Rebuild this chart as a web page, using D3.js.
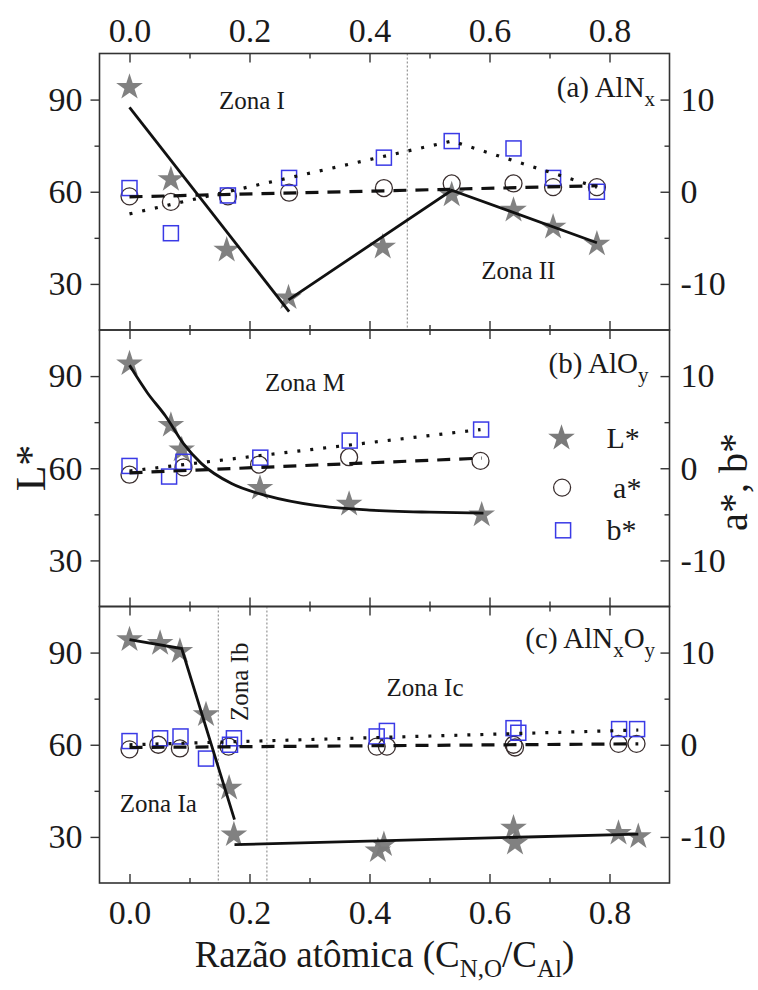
<!DOCTYPE html>
<html>
<head>
<meta charset="utf-8">
<script src="https://cdn.jsdelivr.net/npm/d3@7"></script>
<style>
  body { margin: 0; background: #fff; }
  svg { display: block; font-family: "Liberation Serif", "Times New Roman", serif; }
  .tick text { font-family: "Liberation Serif", "Times New Roman", serif; fill: #1a1a1a; }
  .tick line { stroke: #333; stroke-width: 1.4; }
</style>
</head>
<body>
<svg id="chart" width="758" height="990"></svg>
<script>
// ---- axis ticks ----
const xMajor = [0, 0.2, 0.4, 0.6, 0.8];
const xMinor = [0.1, 0.3, 0.5, 0.7];
const xTickLabels = ["0.0", "0.2", "0.4", "0.6", "0.8"];
const lTicks = [30, 60, 90];
const lMinor = [45, 75];
const abTicks = [-10, 0, 10];
const abMinor = [-5, 5];

// ---- (a) AlNx ----
const aXL = [0, 0.069, 0.162, 0.265, 0.422, 0.537, 0.64, 0.706, 0.779];
const aL  = [94, 64, 41, 25.5, 42, 59, 54, 48.5, 43];
const aXA = [0, 0.069, 0.164, 0.266, 0.424, 0.537, 0.64, 0.706, 0.779];
const aA  = [-0.5, -1.1, -0.5, -0.1, 0.4, 0.9, 0.9, 0.5, 0.5];
const aXB = [0, 0.069, 0.164, 0.266, 0.424, 0.537, 0.64, 0.706, 0.779];
const aB  = [0.4, -4.5, -0.4, 1.5, 3.7, 5.5, 4.7, 1.5, 0];
const aLFit = [[[0, 87.5], [0.266, 21]], [[0.265, 24.8], [0.537, 60.5], [0.779, 43.4]]];
const aAFit = [[[0, -0.55], [0.78, 0.65]]];
const aBFit = [[[0, -2.4], [0.537, 5.5], [0.779, 0.5]]];
const aGuides = [0.463];

// ---- (b) AlOy ----
const bXL = [0, 0.069, 0.087, 0.2175, 0.366, 0.587];
const bL  = [94, 74, 66, 53.5, 48.3, 44.8];
const bXA = [0, 0.09, 0.216, 0.366, 0.585];
const bA  = [-0.7, 0.1, 0.4, 1.2, 0.8];
const bXB = [0, 0.066, 0.09, 0.218, 0.367, 0.586];
const bB  = [0.25, -0.9, 0.7, 1.15, 3.0, 4.2];
const bLFitX = [0, 0.03, 0.06, 0.09, 0.12, 0.17, 0.23, 0.31, 0.40, 0.50, 0.59];
const bLFitY = [93.5, 84.5, 77, 68, 61.5, 55, 51, 47.9, 46.4, 45.7, 45.4];
const bAFit = [[[0, -0.5], [0.587, 1.1]]];
const bBFit = [[[0, -0.3], [0.585, 4.2]]];

// ---- (c) AlNxOy ----
const cXL = [0, 0.051, 0.084, 0.1275, 0.166, 0.174, 0.414, 0.424, 0.64, 0.6425, 0.815, 0.848];
const cL  = [94.2, 93, 90.4, 69.8, 45.9, 30.7, 25.5, 27.5, 32.9, 28, 31.2, 30.1];
const cXA = [0, 0.048, 0.084, 0.165, 0.412, 0.429, 0.64, 0.6425, 0.815, 0.845];
const cA  = [-0.5, 0, -0.4, -0.2, -0.2, -0.2, 0, -0.3, 0.1, 0.1];
const cXB = [0, 0.051, 0.085, 0.1275, 0.1675, 0.174, 0.412, 0.429, 0.64, 0.648, 0.816, 0.846];
const cB  = [0.4, 0.7, 0.9, -1.5, 0, 0.7, 0.9, 1.5, 1.8, 1.3, 1.7, 1.7];
const cLFit = [[[0, 94.2], [0.087, 91.3], [0.175, 35.6]], [[0.175, 27.5], [0.848, 30.9]]];
const cAFit = [[[0, -0.3], [0.848, 0.1]]];
const cBFit = [[[0, 0], [0.848, 1.6]]];
const cGuides = [0.148, 0.229];

// ---- layout ----
const svg = d3.select("#chart");
const FRAME_L = 99.5, FRAME_R = 669.5;
const PANEL_H = 276.5;
const panelTops = [53.5, 330, 606.5];
const x = d3.scaleLinear().domain([-0.05, 0.9]).range([FRAME_L, FRAME_R]);

const TEXT = "#1a1a1a";
const STAR_FILL = "#7a7a7a";
const CIRCLE_STROKE = "#3a2e2e";
const SQUARE_STROKE = "#3a3ae6";

const zip = (xs, ys) => xs.map((v, i) => [v, ys[i]]);

const panels = [
  { L: zip(aXL, aL), A: zip(aXA, aA), B: zip(aXB, aB), LFit: aLFit, AFit: aAFit, BFit: aBFit, guides: aGuides, smooth: false },
  { L: zip(bXL, bL), A: zip(bXA, bA), B: zip(bXB, bB), LFit: [zip(bLFitX, bLFitY)], AFit: bAFit, BFit: bBFit, guides: [], smooth: true },
  { L: zip(cXL, cL), A: zip(cXA, cA), B: zip(cXB, cB), LFit: cLFit, AFit: cAFit, BFit: cBFit, guides: cGuides, smooth: false }
];

const star = d3.symbol().type(d3.symbolStar).size(220);

function styleAxis(g, fontSize) {
  g.select(".domain").remove();
  g.selectAll(".tick text").attr("font-size", fontSize);
}

const scales = [];

panels.forEach((p, i) => {
  const top = panelTops[i], bottom = top + PANEL_H;
  const yL = d3.scaleLinear().domain([15, 105]).range([bottom, top]);
  const yR = d3.scaleLinear().domain([-15, 15]).range([bottom, top]);
  scales.push({ yL, yR, top, bottom });
  const g = svg.append("g");

  // zone boundaries
  g.selectAll(".guide").data(p.guides).enter().append("line")
    .attr("x1", d => x(d)).attr("x2", d => x(d))
    .attr("y1", top).attr("y2", bottom)
    .attr("stroke", "#8a8a8a").attr("stroke-width", 1.1)
    .attr("stroke-dasharray", "2,2");

  // markers
  g.selectAll(".star").data(p.L).enter().append("path")
    .attr("d", star)
    .attr("transform", d => `translate(${x(d[0])},${yL(d[1])})`)
    .attr("fill", STAR_FILL).attr("opacity", 0.95);
  g.selectAll(".circ").data(p.A).enter().append("circle")
    .attr("cx", d => x(d[0])).attr("cy", d => yR(d[1])).attr("r", 8.5)
    .attr("fill", "none").attr("stroke", CIRCLE_STROKE).attr("stroke-width", 1.3);
  g.selectAll(".sq").data(p.B).enter().append("rect")
    .attr("x", d => x(d[0]) - 7.5).attr("y", d => yR(d[1]) - 7.5)
    .attr("width", 15).attr("height", 15)
    .attr("fill", "none").attr("stroke", SQUARE_STROKE).attr("stroke-width", 1.5);

  // fit lines
  const lineL = d3.line().x(d => x(d[0])).y(d => yL(d[1]));
  if (p.smooth) lineL.curve(d3.curveMonotoneX);
  const lineR = d3.line().x(d => x(d[0])).y(d => yR(d[1]));
  g.selectAll(".lfit").data(p.LFit).enter().append("path")
    .attr("d", lineL).attr("fill", "none").attr("stroke", "#111").attr("stroke-width", 2.8);
  g.selectAll(".afit").data(p.AFit).enter().append("path")
    .attr("d", lineR).attr("fill", "none").attr("stroke", "#111").attr("stroke-width", 3.2)
    .attr("stroke-dasharray", "13,9");
  g.selectAll(".bfit").data(p.BFit).enter().append("path")
    .attr("d", lineR).attr("fill", "none").attr("stroke", "#111").attr("stroke-width", 3.2)
    .attr("stroke-dasharray", "3,10");

  // left axis (L*), ticks outward
  const gl = svg.append("g").attr("transform", `translate(${FRAME_L},0)`)
    .call(d3.axisLeft(yL).tickValues(lTicks).tickSize(9).tickPadding(8));
  styleAxis(gl, 34);
  const glm = svg.append("g").attr("transform", `translate(${FRAME_L},0)`)
    .call(d3.axisLeft(yL).tickValues(lMinor).tickSize(5).tickFormat(""));
  styleAxis(glm, 0);

  // right axis (a*, b*), ticks inward
  const gr = svg.append("g").attr("transform", `translate(${FRAME_R},0)`)
    .call(d3.axisRight(yR).tickValues(abTicks).tickSize(-9).tickPadding(11)
      .tickFormat(d => String(d)));
  styleAxis(gr, 34);
  const grm = svg.append("g").attr("transform", `translate(${FRAME_R},0)`)
    .call(d3.axisRight(yR).tickValues(abMinor).tickSize(-5).tickFormat(""));
  styleAxis(grm, 0);

  // x ticks inward on top and bottom edge of every panel
  const showTop = i === 0, showBottom = i === panels.length - 1;
  const gt = svg.append("g").attr("transform", `translate(0,${top})`)
    .call(d3.axisTop(x).tickValues(xMajor).tickSize(-9).tickPadding(12)
      .tickFormat((d, k) => showTop ? xTickLabels[k] : ""));
  styleAxis(gt, 34);
  const gtm = svg.append("g").attr("transform", `translate(0,${top})`)
    .call(d3.axisTop(x).tickValues(xMinor).tickSize(-5).tickFormat(""));
  styleAxis(gtm, 0);
  const gb = svg.append("g").attr("transform", `translate(0,${bottom})`)
    .call(d3.axisBottom(x).tickValues(xMajor).tickSize(-9).tickPadding(17)
      .tickFormat((d, k) => showBottom ? xTickLabels[k] : ""));
  styleAxis(gb, 34);
  const gbm = svg.append("g").attr("transform", `translate(0,${bottom})`)
    .call(d3.axisBottom(x).tickValues(xMinor).tickSize(-5).tickFormat(""));
  styleAxis(gbm, 0);

  // frame
  svg.append("rect")
    .attr("x", FRAME_L).attr("y", top).attr("width", FRAME_R - FRAME_L).attr("height", PANEL_H)
    .attr("fill", "none").attr("stroke", "#333").attr("stroke-width", 1.6);
});

// ---- annotations ----
function label(txt, px, py, size, anchor = "middle") {
  return svg.append("text").attr("x", px).attr("y", py)
    .attr("font-size", size).attr("fill", TEXT).attr("text-anchor", anchor).text(txt);
}

// (a)
label("Zona I", x(0.204), 109, 25);
label("Zona II", x(0.648), 279, 25);
const ta = label("(a) AlN", x(0.876), 97, 29, "end");
ta.append("tspan").attr("font-size", 21).attr("dy", 9).text("x");

// (b)
label("Zona M", x(0.2925), 390.5, 25);
const tb = label("(b) AlO", x(0.865), 373, 29, "end");
tb.append("tspan").attr("font-size", 21).attr("dy", 9).text("y");

// legend in (b)
const legX = x(0.72);
svg.append("path").attr("d", star).attr("fill", STAR_FILL)
  .attr("transform", `translate(${legX},${scales[1].yL(69.8)})`);
svg.append("circle").attr("cx", legX + 0.6).attr("cy", scales[1].yL(53.7)).attr("r", 8.5)
  .attr("fill", "none").attr("stroke", CIRCLE_STROKE).attr("stroke-width", 1.3);
svg.append("rect").attr("x", legX + 1.6 - 7.5).attr("y", scales[1].yL(39.8) - 7.5)
  .attr("width", 15).attr("height", 15)
  .attr("fill", "none").attr("stroke", SQUARE_STROKE).attr("stroke-width", 1.5);
label("L*", x(0.795), scales[1].yL(69.8) + 10, 30, "start");
label("a*", x(0.806), scales[1].yL(53.7) + 10, 30, "start");
label("b*", x(0.795), scales[1].yL(39.8) + 10, 30, "start");

// (c)
label("Zona Ia", x(0.048), 812, 25);
svg.append("text")
  .attr("transform", `translate(${x(0.183)},${681.7}) rotate(-90)`)
  .attr("dy", "0.35em").attr("font-size", 25).attr("fill", TEXT)
  .attr("text-anchor", "middle").text("Zona Ib");
label("Zona Ic", x(0.4925), 695.5, 25);
const tc = label("(c) AlN", x(0.876), 648, 29, "end");
tc.append("tspan").attr("font-size", 21).attr("dy", 9).text("x");
tc.append("tspan").attr("dy", -9).text("O");
tc.append("tspan").attr("font-size", 21).attr("dy", 9).text("y");

// axis titles
svg.append("text")
  .attr("transform", "translate(30,468) rotate(-90)")
  .attr("dy", "0.35em").attr("font-size", 42).attr("fill", TEXT)
  .attr("text-anchor", "middle").text("L*");
svg.append("text")
  .attr("transform", "translate(733,482) rotate(-90)")
  .attr("dy", "0.35em").attr("font-size", 40).attr("fill", TEXT)
  .attr("text-anchor", "middle").text("a*, b*");

const tx = svg.append("text").attr("x", (FRAME_L + FRAME_R) / 2).attr("y", 967)
  .attr("font-size", 37).attr("fill", TEXT).attr("text-anchor", "middle");
tx.append("tspan").text("Razão atômica (C");
tx.append("tspan").attr("font-size", 25).attr("dy", 10).text("N,O");
tx.append("tspan").attr("dy", -10).text("/C");
tx.append("tspan").attr("font-size", 25).attr("dy", 10).text("Al");
tx.append("tspan").attr("dy", -10).text(")");
</script>
</body>
</html>
